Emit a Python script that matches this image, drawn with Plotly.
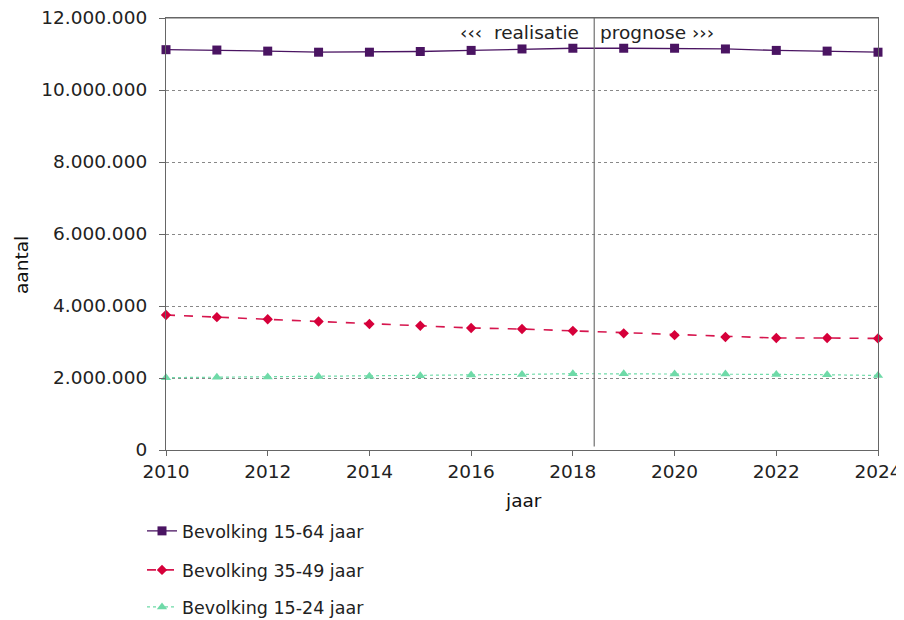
import plotly.graph_objects as go

years = list(range(2010, 2025))
bev_15_64 = [11.12, 11.11, 11.08, 11.05, 11.05, 11.07, 11.10, 11.14, 11.16, 11.16, 11.16, 11.14, 11.10, 11.08, 11.05]
bev_35_49 = [3.75, 3.69, 3.63, 3.57, 3.50, 3.45, 3.39, 3.36, 3.31, 3.24, 3.19, 3.14, 3.11, 3.11, 3.10]
bev_15_24 = [2.01, 2.02, 2.03, 2.04, 2.05, 2.06, 2.08, 2.10, 2.12, 2.12, 2.11, 2.11, 2.10, 2.09, 2.07]
split_year = 2018.42
y_ticks = [0, 2000000, 4000000, 6000000, 8000000, 10000000, 12000000]
y_labels = ["0", "2.000.000", "4.000.000", "6.000.000", "8.000.000", "10.000.000", "12.000.000"]
x_ticks = list(range(2010, 2025, 2))

FONT = "DejaVu Sans"
TXT = 18.5
OFF = 8  # page body margin
W, H = 904 - OFF, 620 - OFF

fig = go.Figure()
fig.add_trace(go.Scatter(x=years, y=[v * 1e6 for v in bev_15_64], mode="lines+markers",
                         name="Bevolking 15-64 jaar", legend="legend", cliponaxis=False,
                         line=dict(color="#4a1462", width=1.3),
                         marker=dict(symbol="square", size=9, color="#4a1462")))
fig.add_trace(go.Scatter(x=years, y=[v * 1e6 for v in bev_35_49], mode="lines+markers",
                         name="Bevolking 35-49 jaar", legend="legend2", cliponaxis=False,
                         line=dict(color="#d6164e", width=1.6, dash="dash"),
                         marker=dict(symbol="diamond", size=8, color="#d6003a")))
fig.add_trace(go.Scatter(x=years, y=[v * 1e6 for v in bev_15_24], mode="lines+markers",
                         name="Bevolking 15-24 jaar", legend="legend3", cliponaxis=False,
                         line=dict(color="#6fdaa8", width=1.2, dash="dot"),
                         marker=dict(symbol="triangle-up", size=9, color="#6fdaa8")))

fig.add_shape(type="line", xref="x", yref="paper", x0=split_year, x1=split_year, y0=0.008, y1=1,
              line=dict(color="#707070", width=1.2))
fig.add_shape(type="line", xref="paper", yref="paper", x0=0, x1=1, y0=1, y1=1,
              line=dict(color="#666", width=1.2))
hy = (450 - 32) / 432
fig.add_annotation(x=split_year, y=hy, xref="x", yref="paper", yanchor="middle", xanchor="right",
                   text="‹‹‹  realisatie", showarrow=False, xshift=-13,
                   font=dict(family=FONT, size=TXT, color="#222"))
fig.add_annotation(x=split_year, y=hy, xref="x", yref="paper", yanchor="middle", xanchor="left",
                   text="prognose ›››", showarrow=False, xshift=4,
                   font=dict(family=FONT, size=TXT, color="#222"))

fig.add_annotation(text="aantal", xref="paper", yref="paper", x=(21 - 166) / 712, y=(450 - 265) / 432,
                   textangle=-90, showarrow=False, xanchor="center", yanchor="middle",
                   font=dict(family=FONT, size=TXT, color="#111"))
fig.add_annotation(text="jaar", xref="paper", yref="paper", x=(523 - 166) / 712, y=(450 - 500) / 432,
                   showarrow=False, xanchor="center", yanchor="middle",
                   font=dict(family=FONT, size=TXT, color="#111"))

leg_common = dict(xanchor="left", yanchor="middle", bgcolor="rgba(0,0,0,0)", xref="container",
                  yref="container", font=dict(family=FONT, size=17.5, color="#222"), itemwidth=30)
LX = (142 - OFF) / W
fig.update_layout(
    width=W, height=H,
    showlegend=True,
    margin=dict(l=166 - OFF, r=904 - 878, t=18 - OFF, b=620 - 450, autoexpand=False),
    plot_bgcolor="white", paper_bgcolor="white",
    font=dict(family=FONT, size=TXT, color="#222"),
    legend=dict(x=LX, y=1 - (531 - OFF) / H, **leg_common),
    legend2=dict(x=LX, y=1 - (570 - OFF) / H, **leg_common),
    legend3=dict(x=LX, y=1 - (607 - OFF) / H, **leg_common),
    xaxis=dict(range=[2010, 2024], tickvals=x_ticks, ticks="outside", ticklen=5, tickcolor="#666",
               showline=True, linecolor="#666", linewidth=1.2, mirror=True, showgrid=False,
               zeroline=False, automargin=False, ticklabeloverflow="allow",
               tickfont=dict(family=FONT, size=TXT, color="#222")),
    yaxis=dict(range=[0, 12000000], tickvals=y_ticks, ticktext=y_labels, ticks="outside", ticklen=6,
               tickcolor="#666", showline=True, linecolor="#666", linewidth=1.2, mirror=True,
               showgrid=True, gridcolor="#888", griddash="dot", gridwidth=1, zeroline=False,
               automargin=False, ticklabeloverflow="allow", ticklabelstandoff=8,
               tickfont=dict(family=FONT, size=TXT, color="#222")),
)
fig.write_html("out.html")
